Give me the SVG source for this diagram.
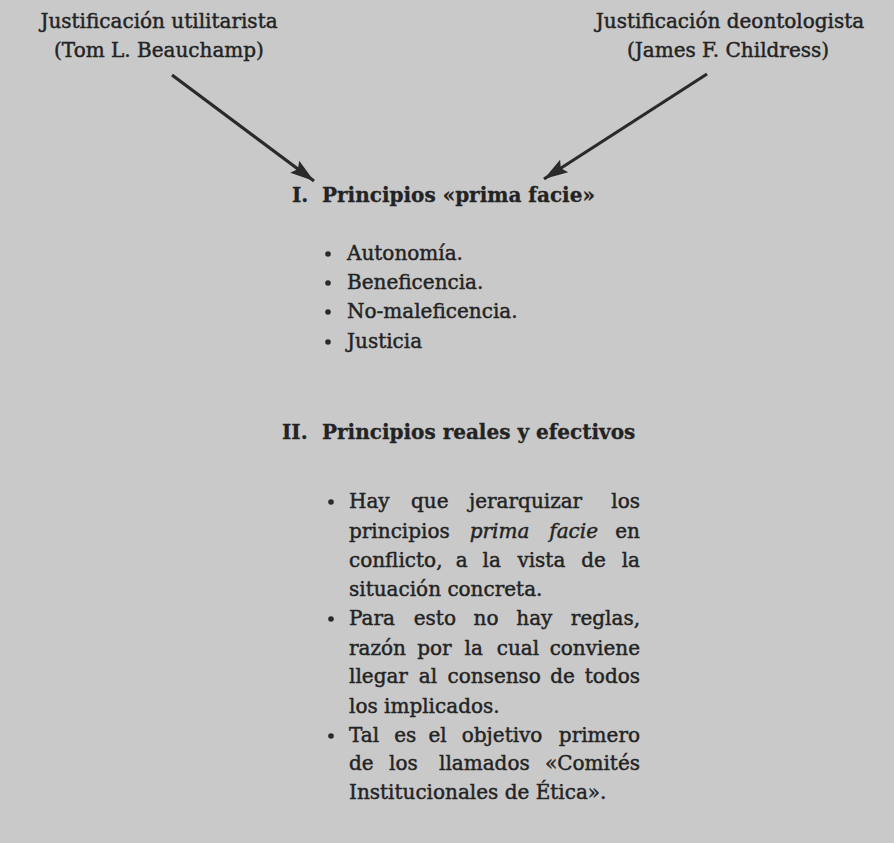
<svg xmlns="http://www.w3.org/2000/svg" width="894" height="843" viewBox="0 0 894 843">
<style>
text{font-family:"DejaVu Serif","Liberation Serif",serif;font-size:20px;fill:#232323;stroke:#232323;stroke-width:0.45}
.b{font-weight:bold;stroke-width:0.3}
.i{font-style:italic}
.e{text-anchor:end}
.m{text-anchor:middle}
.arr{stroke:#2a2a2a;stroke-width:3.2;fill:none}
.dot{fill:#2a2a2a}
</style>
<defs>
<marker id="ah" markerUnits="userSpaceOnUse" markerWidth="26" markerHeight="18" refX="24" refY="9" orient="auto">
<path d="M0,1.5 L24,9 L0,16.5 L4,9 Z" fill="#2a2a2a"/>
</marker>
</defs>
<rect width="894" height="843" fill="#c9c9c9"/>
<g id="utilitarista">
<text class="m" x="159" y="28">Justificación utilitarista</text>
<text class="m" x="159" y="57">(Tom L. Beauchamp)</text>
</g>
<g id="deontologista">
<text class="m" x="730" y="28">Justificación deontologista</text>
<text class="m" x="728" y="57">(James F. Childress)</text>
</g>
<g id="connectors">
<line class="arr" x1="172" y1="75" x2="314" y2="181" marker-end="url(#ah)"/>
<line class="arr" x1="707" y1="74" x2="544" y2="179" marker-end="url(#ah)"/>
</g>
<g id="prima-facie">
<text class="b" y="202"><tspan x="292">I.</tspan><tspan x="322">Principios «prima facie»</tspan></text>
<circle class="dot" cx="328" cy="254" r="2.8"/>
<circle class="dot" cx="328" cy="283" r="2.8"/>
<circle class="dot" cx="328" cy="312" r="2.8"/>
<circle class="dot" cx="328" cy="342" r="2.8"/>
<text x="347" y="260">Autonomía.</text>
<text x="347" y="289">Beneficencia.</text>
<text x="347" y="318">No-maleficencia.</text>
<text x="347" y="348">Justicia</text>
</g>
<g id="reales">
<text class="b" y="439"><tspan x="282">II.</tspan><tspan x="322">Principios reales y efectivos</tspan></text>
<circle class="dot" cx="331" cy="502" r="2.8"/>
<circle class="dot" cx="331" cy="619" r="2.8"/>
<circle class="dot" cx="331" cy="736" r="2.8"/>
<text y="508"><tspan x="349">Hay</tspan><tspan x="411">que</tspan><tspan x="469">jerarquizar</tspan><tspan class="e" x="640">los</tspan></text>
<text y="538"><tspan x="349">principios</tspan><tspan class="i" x="469.7">prima</tspan><tspan class="i" x="549.3">facie</tspan><tspan class="e" x="640">en</tspan></text>
<text y="567"><tspan x="349">conflicto,</tspan><tspan x="455.8">a</tspan><tspan x="482.6">la</tspan><tspan x="517.4">vista</tspan><tspan x="581.2">de</tspan><tspan class="e" x="640">la</tspan></text>
<text x="349" y="596">situación concreta.</text>
<text y="625"><tspan x="349">Para</tspan><tspan x="413.75">esto</tspan><tspan x="473.5">no</tspan><tspan x="516.25">hay</tspan><tspan class="e" x="640">reglas,</tspan></text>
<text y="655"><tspan x="349">razón</tspan><tspan x="417.25">por</tspan><tspan x="464.5">la</tspan><tspan x="496.75">cual</tspan><tspan class="e" x="640">conviene</tspan></text>
<text y="683"><tspan x="349">llegar</tspan><tspan x="418.75">al</tspan><tspan x="447.5">consenso</tspan><tspan x="550.25">de</tspan><tspan class="e" x="640">todos</tspan></text>
<text x="349" y="713">los implicados.</text>
<text y="742"><tspan x="349">Tal</tspan><tspan x="394.25">es</tspan><tspan x="428.5">el</tspan><tspan x="461.75">objetivo</tspan><tspan class="e" x="640">primero</tspan></text>
<text y="770"><tspan x="349">de</tspan><tspan x="389">los</tspan><tspan x="439">llamados</tspan><tspan class="e" x="640">«Comités</tspan></text>
<text x="349" y="799">Institucionales de Ética».</text>
</g>
</svg>
